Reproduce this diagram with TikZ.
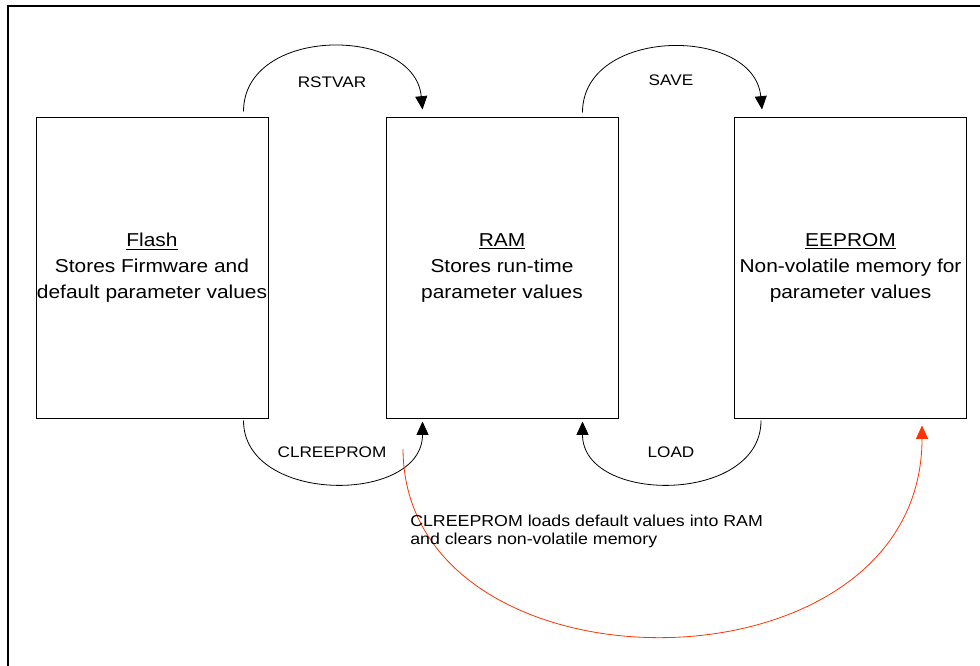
\documentclass[tikz,border=0pt]{standalone}
\usepackage{fontspec}
\setmainfont{Liberation Sans}[FakeStretch=1.12]
\usetikzlibrary{arrows.meta, calc}

\definecolor{eraseRed}{RGB}{255,51,0}
\tikzset{
  membox/.style={draw, line width=0.75pt, minimum width=174pt, minimum height=225pt,
    align=center, inner sep=0pt, font=\fontsize{14}{19.5}\selectfont},
  cmdlabel/.style={inner sep=0pt, font=\fontsize{11.5}{14}\selectfont},
  notetext/.style={inner sep=0pt, align=left, font=\fontsize{11.9}{13.5}\selectfont},
  cmdarc/.style={line width=0.6pt, -{Triangle[length=10pt, width=9pt]}},
  clrarc/.style={cmdarc, draw=eraseRed},
}

\begin{document}
\begin{tikzpicture}[x=0.75pt, y=-0.75pt]
\useasboundingbox (0,0) rectangle (980,666);
\draw[line width=1.8pt] (8,672) -- (8,6) -- (986,6);

\node[membox] (flash) at (152,268) {\underline{Flash}\\Stores Firmware and\\default parameter values};
\node[membox] (ram) at (502,268) {\underline{RAM}\\Stores run-time\\parameter values};
\node[membox] (eeprom) at (850.5,268) {\underline{EEPROM}\\Non-volatile memory for\\parameter values};

\node[cmdlabel] (rstvar) at (332,82) {RSTVAR};
\node[cmdlabel] (save) at (671,80) {SAVE};
\node[cmdlabel] (clreeprom) at (332,452) {CLREEPROM};
\node[cmdlabel] (load) at (671,452) {LOAD};

\draw[cmdarc] ($(flash.north east)+(-25,-6)$) .. controls +(0,-86) and +(-8,-84) .. ($(ram.north west)+(37,-8)$);
\draw[cmdarc] ($(ram.north east)+(-36,-5)$) .. controls +(0,-86) and +(-8,-84) .. ($(eeprom.north west)+(28,-8)$);
\draw[cmdarc] ($(flash.south east)+(-25,2)$) .. controls +(0,84) and +(0,83) .. ($(ram.south west)+(37,3)$);
\draw[cmdarc] ($(eeprom.south west)+(27,2)$) .. controls +(0,84) and +(0,83) .. ($(ram.south east)+(-36,3)$);

\coordinate (clrstart) at (403,449);
\draw[clrarc] (clrstart) .. controls +(1,253) and +(0,277) .. ($(eeprom.south east)+(-45,7)$);

\node[notetext, anchor=north west] (note) at (410,515) {CLREEPROM loads default values into RAM\\and clears non-volatile memory};

\end{tikzpicture}
\end{document}
